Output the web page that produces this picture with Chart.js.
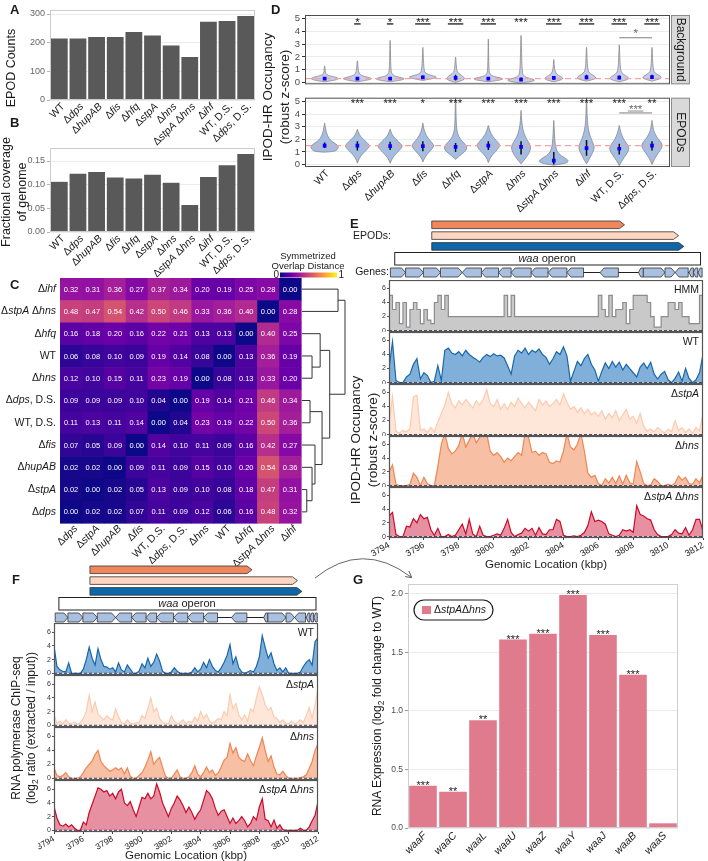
<!DOCTYPE html>
<html lang="en">
<head>
<meta charset="UTF-8">
<title>IPOD-HR EPODs and the waa operon</title>
<script src="https://cdn.jsdelivr.net/npm/chart.js"></script>
<style>
  body { margin: 0; background: #fff; }
  #fig { position: relative; width: 708px; height: 861px; overflow: hidden;
         font-family: "Liberation Sans", Arial, sans-serif; color: #1a1a1a; }
  #fig canvas { position: absolute; }
  .t { position: absolute; white-space: nowrap; line-height: 1.25; text-align: center; }
  .t sub { font-size: 70%; }
</style>
</head>
<body>
<div id="fig"></div>
<script>
// ---------- data ----------
// "_x_" marks italic text
const strains = ['WT', 'Δ_dps_', 'Δ_hupAB_', 'Δ_fis_', 'Δ_hfq_', 'Δ_stpA_', 'Δ_hns_',
                 'Δ_stpA_ Δ_hns_', 'Δ_ihf_', 'WT, D.S.', 'Δ_dps_, D.S.'];
const epodCounts = [215, 215, 220, 220, 237, 225, 190, 150, 273, 276, 293];
const genomeCoverage = [0.106, 0.123, 0.127, 0.115, 0.113, 0.121, 0.104, 0.057, 0.116, 0.141, 0.165];

const heatRows = ['Δ_ihf_', 'Δ_stpA_ Δ_hns_', 'Δ_hfq_', 'WT', 'Δ_hns_', 'Δ_dps_, D.S.',
                  'WT, D.S.', 'Δ_fis_', 'Δ_hupAB_', 'Δ_stpA_', 'Δ_dps_'];
const heatCols = ['Δ_dps_', 'Δ_stpA_', 'Δ_hupAB_', 'Δ_fis_', 'WT, D.S.', 'Δ_dps_, D.S.',
                  'Δ_hns_', 'WT', 'Δ_hfq_', 'Δ_stpA_ Δ_hns_', 'Δ_ihf_'];
const overlapDist = [
  [0.32, 0.31, 0.36, 0.27, 0.37, 0.34, 0.20, 0.19, 0.25, 0.28, 0.00],
  [0.48, 0.47, 0.54, 0.42, 0.50, 0.46, 0.33, 0.36, 0.40, 0.00, 0.28],
  [0.16, 0.18, 0.20, 0.16, 0.22, 0.21, 0.13, 0.13, 0.00, 0.40, 0.25],
  [0.06, 0.08, 0.10, 0.09, 0.19, 0.14, 0.08, 0.00, 0.13, 0.36, 0.19],
  [0.12, 0.10, 0.15, 0.11, 0.23, 0.19, 0.00, 0.08, 0.13, 0.33, 0.20],
  [0.09, 0.09, 0.09, 0.10, 0.04, 0.00, 0.19, 0.14, 0.21, 0.46, 0.34],
  [0.11, 0.13, 0.11, 0.14, 0.00, 0.04, 0.23, 0.19, 0.22, 0.50, 0.36],
  [0.07, 0.05, 0.09, 0.00, 0.14, 0.10, 0.11, 0.09, 0.16, 0.42, 0.27],
  [0.02, 0.02, 0.00, 0.09, 0.11, 0.09, 0.15, 0.10, 0.20, 0.54, 0.36],
  [0.02, 0.00, 0.02, 0.05, 0.13, 0.09, 0.10, 0.08, 0.18, 0.47, 0.31],
  [0.00, 0.02, 0.02, 0.07, 0.11, 0.09, 0.12, 0.06, 0.16, 0.48, 0.32]
];
// [node a, node b, height]; nodes 0-10 are rows, 11+ are earlier merges
const dendroMerges = [
  [9, 10, 0.05], [8, 11, 0.105], [7, 12, 0.136], [5, 6, 0.084], [14, 13, 0.21],
  [3, 4, 0.105], [2, 16, 0.19], [17, 15, 0.29], [0, 1, 0.377], [19, 18, 0.45]
];

// violin outlines: [z-score, half width in category units]
const bgViolins = [
  [[0.05, 0], [0.12, 0.2], [0.22, 0.38], [0.3, 0.42], [0.4, 0.36], [0.5, 0.18], [0.6, 0.06], [0.8, 0.02], [1.3, 0.005]],
  [[0.05, 0], [0.15, 0.25], [0.25, 0.42], [0.32, 0.44], [0.42, 0.3], [0.55, 0.1], [0.8, 0.03], [1.7, 0.005]],
  [[0.05, 0], [0.15, 0.28], [0.25, 0.44], [0.35, 0.4], [0.45, 0.2], [0.6, 0.06], [1.0, 0.02], [3.3, 0.004]],
  [[0.15, 0], [0.25, 0.2], [0.35, 0.4], [0.45, 0.42], [0.55, 0.25], [0.7, 0.08], [1.0, 0.03], [2.75, 0.004]],
  [[0.0, 0], [0.1, 0.15], [0.25, 0.28], [0.4, 0.26], [0.6, 0.15], [0.8, 0.06], [1.0, 0.03], [2.0, 0.005]],
  [[0.05, 0], [0.15, 0.3], [0.25, 0.45], [0.33, 0.42], [0.45, 0.18], [0.6, 0.05], [1.0, 0.015], [3.4, 0.004]],
  [[-0.05, 0], [0.05, 0.3], [0.15, 0.42], [0.25, 0.38], [0.35, 0.2], [0.5, 0.08], [0.8, 0.03], [3.7, 0.004]],
  [[0.05, 0], [0.15, 0.18], [0.3, 0.3], [0.45, 0.22], [0.65, 0.08], [1.0, 0.02], [1.8, 0.005]],
  [[0.1, 0], [0.2, 0.18], [0.35, 0.3], [0.5, 0.24], [0.7, 0.1], [1.0, 0.03], [2.75, 0.004]],
  [[0.05, 0], [0.15, 0.18], [0.3, 0.3], [0.45, 0.25], [0.65, 0.1], [1.0, 0.03], [2.95, 0.004]],
  [[0.1, 0], [0.2, 0.15], [0.35, 0.3], [0.5, 0.26], [0.7, 0.1], [1.0, 0.03], [2.75, 0.004]]
];
const epodViolins = [
  [[0.98, 0], [1.02, 0.3], [1.2, 0.4], [1.45, 0.43], [1.65, 0.33], [1.9, 0.18], [2.3, 0.08], [2.8, 0.03], [3.3, 0]],
  [[0.1, 0], [0.5, 0.05], [0.9, 0.18], [1.3, 0.34], [1.5, 0.38], [1.8, 0.27], [2.2, 0.1], [2.5, 0.04], [2.8, 0]],
  [[0.1, 0], [0.5, 0.06], [0.9, 0.2], [1.3, 0.35], [1.5, 0.38], [1.8, 0.26], [2.2, 0.1], [2.5, 0.04], [2.8, 0]],
  [[0.2, 0], [0.6, 0.06], [1.0, 0.2], [1.35, 0.32], [1.55, 0.34], [1.9, 0.22], [2.3, 0.1], [2.8, 0.03], [3.3, 0]],
  [[0.4, 0], [0.7, 0.12], [1.0, 0.28], [1.3, 0.36], [1.6, 0.3], [2.0, 0.14], [2.5, 0.05], [3.2, 0.02], [5.4, 0.004]],
  [[0.15, 0], [0.6, 0.06], [1.0, 0.22], [1.4, 0.34], [1.6, 0.35], [1.9, 0.24], [2.4, 0.08], [3.1, 0]],
  [[0.05, 0], [0.3, 0.08], [0.7, 0.2], [1.2, 0.3], [1.6, 0.28], [2.1, 0.14], [2.8, 0.05], [3.5, 0.02], [4.3, 0]],
  [[-0.05, 0], [0.05, 0.3], [0.2, 0.45], [0.4, 0.42], [0.7, 0.22], [1.0, 0.1], [1.6, 0.04], [2.5, 0.02], [3.5, 0]],
  [[0.05, 0], [0.3, 0.06], [0.8, 0.16], [1.3, 0.25], [1.7, 0.2], [2.3, 0.1], [3.0, 0.04], [4.0, 0.015], [5.4, 0.004]],
  [[-0.1, 0], [0.3, 0.08], [0.8, 0.22], [1.2, 0.3], [1.5, 0.28], [1.9, 0.15], [2.5, 0.05], [3.1, 0]],
  [[0.0, 0], [0.5, 0.08], [1.0, 0.22], [1.4, 0.32], [1.7, 0.3], [2.1, 0.16], [2.6, 0.06], [3.0, 0.03], [3.5, 0]]
];
const bgMedians = [0.3, 0.3, 0.3, 0.4, 0.35, 0.3, 0.22, 0.35, 0.4, 0.38, 0.42];
const bgLo = [0.2, 0.2, 0.2, 0.3, 0.15, 0.2, 0.1, 0.2, 0.25, 0.25, 0.3];
const bgHi = [0.4, 0.42, 0.42, 0.55, 0.6, 0.42, 0.38, 0.5, 0.6, 0.55, 0.6];
const epodMedians = [1.5, 1.5, 1.45, 1.45, 1.4, 1.5, 1.4, 0.3, 1.3, 1.25, 1.5];
const epodLo = [1.3, 1.1, 1.15, 1.05, 1.0, 1.15, 0.8, 0.0, 0.7, 0.8, 1.1];
const epodHi = [1.75, 1.85, 1.8, 1.85, 1.7, 1.85, 1.85, 1.0, 1.95, 1.65, 1.85];
const bgStars = ['', '*', '*', '***', '***', '***', '***', '***', '***', '***', '***'];
const bgUnderline = [false, true, true, true, true, true, false, true, true, true, true];
const epodStars = ['', '***', '***', '*', '***', '***', '***', '***', '***', '***', '**'];

// genome annotation (kbp)
const epodStart = [3796.45, 3796.45, 3796.45];
const epodEnd = [3807.5, 3810.6, 3810.9];
const epodColors = ['#f0875c', '#fdd5c0', '#0f66a8'];
const operonSpan = [3794.3, 3811.83];
const geneStart = [3794.08, 3794.95, 3795.97, 3796.95, 3798.2, 3799.3, 3800.28, 3801.0, 3802.15, 3803.12,
                   3804.2, 3806.1, 3808.3, 3808.58, 3809.82, 3810.4, 3811.2, 3811.45, 3811.72];
const geneEnd = [3794.95, 3795.97, 3796.95, 3798.2, 3799.3, 3800.28, 3801.0, 3802.15, 3803.12, 3804.2,
                 3805.15, 3807.15, 3808.58, 3809.82, 3810.4, 3811.15, 3811.45, 3811.7, 3811.95];
const geneStrand = [1, 1, 1, 1, -1, -1, -1, -1, -1, -1, -1, -1, -1, 1, 1, -1, -1, -1, -1];

// signal tracks, one value every 0.2 kbp from 3794 to 3812
const hmmE = [5,3,4,1,4,0.5,3,4,3,1, 3,1.5,1,4,5,3,5,2,2,2, 2,2,2,2,2,2,2,2,2,2, 2,2,2,5,2,5,2,2,2,2,
  2,2,2,2,2,2,2,2,2,2, 2,2,2,2,2,2,2,2,2,2, 5,3,2,5,2,3,3,4,1,3, 5,5,5,5,4,2,0.5,0.5,2,2, 4,4,3,4,2,2,1,1,1,5, 5];
const ipodWtE = [2.0,5.8,0.3,0,0,0.8,1.2,2.6,3.4,0.5, 1.4,1.0,0,0.2,2.4,0.3,4.6,4.9,4.2,4.0,
  4.4,3.8,4.6,4.0,3.6,3.3,2.9,3.6,4.0,3.7, 4.1,3.8,3.9,3.5,2.4,1.2,3.8,4.6,4.2,4.9,
  4.0,4.6,4.3,4.8,4.0,3.6,2.6,3.4,4.4,4.0, 5.1,3.8,0.2,1.6,3.0,2.4,3.4,4.0,2.6,1.8,
  0.2,1.6,2.8,2.0,3.0,2.2,2.9,1.8,2.6,2.0, 1.4,0.8,2.2,2.8,2.0,2.9,1.2,0.5,1.2,1.6,
  0.4,0,0.6,1.5,0.2,2.0,0.6,0,0.4,1.4, 4.0];
const ipodStpAE = [1.5,5.4,0.5,0.2,0.6,0.4,0.8,5.4,5.6,0.6, 0.8,0.3,1.0,0.4,1.8,3.0,4.2,6.0,4.4,3.8,
  4.8,4.2,5.0,4.4,3.8,4.8,4.2,5.0,6.4,4.4, 4.0,5.0,3.6,4.4,3.6,4.6,4.0,5.2,4.4,3.8,
  4.6,4.0,3.4,5.0,4.2,4.8,4.0,4.4,5.0,4.2, 5.8,4.6,3.6,4.0,3.2,3.8,3.0,3.6,2.8,3.2,
  2.6,3.4,2.2,3.0,2.4,3.4,2.0,2.8,3.6,2.2, 2.6,1.6,3.0,1.2,0.5,0.8,0.4,1.0,0.6,0.2,
  0.8,0.4,2.0,0.6,1.0,0.3,0.8,0.2,1.0,0.5, 3.0];
const ipodHnsE = [2.0,3.0,0.2,0,0,0,0.2,1.8,1.2,0, 1.2,0.3,0,0,2.8,6.0,7.6,5.4,4.6,5.0,
  5.8,7.6,5.6,6.6,7.6,6.2,7.0,7.6,7.6,5.0, 4.4,4.8,4.2,3.4,4.0,3.6,4.2,4.8,4.4,7.6,
  7.0,4.8,5.0,4.4,4.8,4.6,3.4,3.2,3.6,3.4, 5.0,7.6,5.6,5.2,6.0,7.6,5.0,1.8,1.2,1.5,
  0.3,0,1.0,0.4,1.2,0.3,1.4,0.2,1.5,0.4, 0.2,3.5,2.0,0.3,0,0.1,1.0,0.6,0,0,
  0.2,0,0.4,1.4,0.8,1.2,0.3,0.2,1.0,0.4, 1.5];
const ipodBothE = [3.0,3.5,0.3,0,0,1.5,1.4,2.6,2.0,3.2, 2.6,2.8,1.0,0.2,1.2,0,0,0.3,0,0.2,
  1.0,1.8,0.4,2.5,0.4,0,1.5,0.2,0,0, 0.2,0.4,0.2,1.2,2.5,0.6,0,0.3,0.5,1.2,
  0.8,1.2,0.2,1.3,0.4,0.3,1.0,1.0,2.5,2.2, 0.2,0,0,0.1,0,0.2,0.6,1.6,3.6,2.2,
  2.4,2.2,1.8,0.4,0.2,0,0.2,1.0,0.8,1.0, 0.6,4.5,3.2,3.0,2.6,2.4,1.0,0.3,0,0,
  0,0.3,1.0,0.5,0.4,1.3,0.2,1.0,2.5,2.5, 0.8];
const rnapWtF = [4.0,1.0,0.5,0.3,0.2,1.5,0,0,0,0, 0.6,2.0,3.8,2.2,1.2,3.6,2.0,1.0,0.9,0.6,
  0.8,0.2,1.5,0.5,0.2,1.2,0.6,0,0,0.3, 1.4,0.8,2.2,1.0,1.6,2.8,1.8,0.3,0,0,
  0.2,0.8,0.3,0,0,0,0,0.2,0.8,0.2, 0.6,1.6,0.8,2.0,1.0,0.4,0.2,0.8,1.6,2.6,
  4.2,1.4,2.4,0.8,0.2,0,0.2,0.4,0.2,1.0, 2.4,5.5,3.8,2.2,3.0,1.4,0.4,0.8,0.2,0.8,
  0,0,0,0,0.2,1.0,1.6,2.0,1.2,4.6, 5.2];
const rnapStpAF = [1.5,0.3,0.6,0.2,0.8,0.3,0.2,0.5,0.2,0.4, 1.0,2.0,4.4,2.0,3.4,1.6,1.2,0.8,1.4,1.0,
  0.8,2.4,1.2,0.4,0.2,0.8,0.3,0.2,0.4,0.4, 1.4,1.0,2.5,4.0,2.0,2.5,1.0,0.4,0.3,0.2,
  1.4,0.6,0.2,0.4,0.8,0.2,0.6,0.4,1.2,0.6, 2.0,1.0,1.6,0.6,0.3,0.6,1.0,0.8,2.0,1.4,
  4.5,2.4,3.2,1.5,0.8,1.5,0.6,2.4,2.0,4.0, 5.6,4.5,3.0,2.2,2.6,1.2,1.0,0.4,0.8,0.3,
  0.2,0.6,0.2,0.4,0.8,0.4,1.4,2.6,1.0,3.0, 5.5];
const rnapHnsF = [1.5,0.4,0.2,0.4,0.8,0.2,0,0,0,0.2, 0.8,1.5,2.0,2.5,3.4,4.0,2.4,1.8,1.4,1.0,
  1.2,1.5,1.2,1.5,0.6,1.5,0.3,0,0,0.4, 0.8,1.6,2.6,3.8,2.0,2.6,3.0,1.6,0.3,0,
  0,0.6,1.2,0.2,0,0,0.2,0.8,1.8,0.6, 0.2,0.8,1.6,0.8,1.2,0.4,0.8,1.6,2.6,3.0,
  5.0,3.6,4.4,3.0,2.6,2.4,3.5,2.5,1.8,3.2, 4.4,5.8,4.0,2.4,3.2,1.6,0.6,0.5,1.0,0.4,
  0,0,0,0,0.1,0.2,0.5,1.4,2.4,4.0, 5.0];
const rnapBothF = [3.5,1.8,0.8,0.6,0.9,0.5,0.8,0.3,0,0, 1.2,0.8,2.6,3.8,5.0,6.2,6.0,5.6,5.8,5.0,
  5.4,4.6,5.6,6.0,4.0,3.6,4.2,3.0,2.0,3.4, 4.8,4.6,5.4,4.6,5.0,6.8,5.6,4.0,3.0,2.0,
  3.2,4.0,5.0,4.4,3.6,2.6,3.4,2.6,1.6,2.4, 3.0,4.4,5.8,5.4,4.6,3.2,2.2,2.8,3.0,2.0,
  1.0,1.8,1.0,1.4,2.0,1.4,0.5,1.0,2.0,1.5, 3.4,4.6,1.6,1.4,0.5,1.5,0.3,0.8,0.1,0,
  0,0,0,0,0.3,0,0,0.5,1.4,2.2, 4.2];
const kbpTicks = [3794, 3796, 3798, 3800, 3802, 3804, 3806, 3808, 3810, 3812];

const waaGenes = ['waaF', 'waaC', 'waaL', 'waaU', 'waaZ', 'waaY', 'waaJ', 'waaB', 'waaS'];
const waaExpr = [0.36, 0.31, 0.92, 1.61, 1.66, 1.99, 1.65, 1.31, 0.04];
const waaStars = ['***', '**', '**', '***', '***', '***', '***', '***', ''];

// ---------- helpers ----------
const FF = '"Liberation Sans", Arial, sans-serif';
Chart.defaults.font.family = FF;
Chart.defaults.animation = false;
Chart.defaults.responsive = false;
Chart.defaults.events = [];
Chart.defaults.plugins.legend.display = false;
Chart.defaults.plugins.tooltip.enabled = false;

const fig = document.getElementById('fig');
const kbp = Array.from({ length: hmmE.length }, (_, i) => +(3794 + 0.2 * i).toFixed(1));

function mk(x, y, w, h) {
  const c = document.createElement('canvas');
  c.width = w; c.height = h;
  c.style.left = x + 'px'; c.style.top = y + 'px';
  fig.appendChild(c);
  return c;
}

function richHtml(s) { return s.split('_').map((t, i) => i % 2 ? '<i>' + t + '</i>' : t).join(''); }
function txt(s, x, y, size, opt = {}) {
  const d = document.createElement('div');
  d.className = 't';
  d.innerHTML = s.split('\n').map(richHtml).join('<br>');
  d.style.left = x + 'px'; d.style.top = y + 'px';
  d.style.fontSize = size + 'px';
  if (opt.bold) d.style.fontWeight = 'bold';
  let tr = opt.anchor || 'translate(-50%,-50%)';
  if (opt.rot) tr += ' rotate(' + opt.rot + 'deg)';
  d.style.transform = tr;
  fig.appendChild(d);
}

function drawRich(ctx, s, x, y, o) {
  const size = o.size || 10;
  const parts = s.split('_').map((t, i) => ({ t, it: i % 2 === 1 })).filter(p => p.t);
  ctx.save();
  ctx.translate(x, y);
  if (o.angle) ctx.rotate(o.angle);
  let w = 0;
  parts.forEach(p => { ctx.font = (p.it ? 'italic ' : '') + size + 'px ' + FF; p.w = ctx.measureText(p.t).width; w += p.w; });
  let cx = o.align === 'right' ? -w : o.align === 'center' ? -w / 2 : 0;
  ctx.fillStyle = o.color || '#1a1a1a';
  ctx.textBaseline = 'middle';
  ctx.textAlign = 'left';
  parts.forEach(p => { ctx.font = (p.it ? 'italic ' : '') + size + 'px ' + FF; ctx.fillText(p.t, cx, 0); cx += p.w; });
  ctx.restore();
}

const plasmaStops = ['#0d0887', '#41049d', '#6a00a8', '#8f0da4', '#b12a90', '#cc4778',
                     '#e16462', '#f2844b', '#fca636', '#fcce25', '#f0f921'];
function plasma(t) {
  const u = Math.max(0, Math.min(1, t)) * 10, k = Math.min(9, Math.floor(u)), f = u - k;
  const p = h => [1, 3, 5].map(j => parseInt(h.substr(j, 2), 16));
  const c0 = p(plasmaStops[k]), c1 = p(plasmaStops[k + 1]);
  return 'rgb(' + c0.map((v, j) => Math.round(v + (c1[j] - v) * f)).join(',') + ')';
}

const fixTicks = vals => scale => { scale.ticks = vals.map(v => ({ value: v })); };

function hline(ctx, x0, x1, y, color, w) {
  ctx.strokeStyle = color; ctx.lineWidth = w;
  ctx.beginPath(); ctx.moveTo(x0, y); ctx.lineTo(x1, y); ctx.stroke();
}

const framePlugin = (color, width) => ({
  id: 'frame',
  afterDatasetsDraw(chart) {
    const a = chart.chartArea, ctx = chart.ctx;
    ctx.save();
    ctx.strokeStyle = color; ctx.lineWidth = width || 1;
    ctx.strokeRect(a.left + 0.5, a.top + 0.5, a.right - a.left - 1, a.bottom - a.top - 1);
    ctx.restore();
  }
});

const slantLabels = (labels, size, dx, dy) => ({
  id: 'slant',
  afterDraw(chart) {
    const xs = chart.scales.x, b = chart.chartArea.bottom;
    labels.forEach((s, i) => drawRich(chart.ctx, s, xs.getPixelForValue(i) + dx, b + dy,
      { size, angle: -Math.PI / 4, align: 'right' }));
  }
});

// ---------- A and B ----------
function barPanel(top, h, padBottom, values, ymax, yticks, fmt) {
  return new Chart(mk(0, top, 262, h), {
    type: 'bar',
    data: { labels: strains, datasets: [{ data: values, backgroundColor: '#595959', barPercentage: 0.9, categoryPercentage: 1 }] },
    options: {
      layout: { padding: { top: 10, right: 7, bottom: padBottom } },
      scales: {
        x: { display: false },
        y: {
          min: 0, max: ymax, afterBuildTicks: fixTicks(yticks),
          ticks: { color: '#666', font: { size: 9 }, padding: 2, callback: fmt },
          grid: { color: '#ebebeb', tickLength: 3, tickColor: '#b3b3b3' },
          border: { display: false },
          afterFit: s => { s.width = 50; }
        }
      }
    },
    plugins: [framePlugin('#cccccc'), slantLabels(strains, 10.5, 4, 5)]
  });
}
barPanel(0, 152, 52, epodCounts, 314, [0, 100, 200, 300], v => v);
barPanel(138, 140, 46, genomeCoverage, 0.1775, [0, 0.05, 0.1, 0.15], v => v.toFixed(2));

// ---------- C heatmap ----------
const heatPlugin = {
  id: 'heat',
  beforeDatasetsDraw(chart) {
    const ctx = chart.ctx, xs = chart.scales.x, ys = chart.scales.y;
    overlapDist.forEach((row, r) => row.forEach((v, c) => {
      const x0 = xs.getPixelForValue(c - 0.5), x1 = xs.getPixelForValue(c + 0.5);
      const y0 = ys.getPixelForValue(r - 0.5), y1 = ys.getPixelForValue(r + 0.5);
      ctx.fillStyle = plasma(v);
      ctx.fillRect(Math.min(x0, x1), Math.min(y0, y1), Math.abs(x1 - x0) + 0.6, Math.abs(y1 - y0) + 0.6);
    }));
    ctx.save();
    ctx.font = '7.5px ' + FF; ctx.fillStyle = '#fff';
    ctx.textAlign = 'center'; ctx.textBaseline = 'middle';
    overlapDist.forEach((row, r) => row.forEach((v, c) =>
      ctx.fillText(v.toFixed(2), xs.getPixelForValue(c), ys.getPixelForValue(r) + 0.5)));
    ctx.restore();
  },
  afterDraw(chart) {
    const ctx = chart.ctx, xs = chart.scales.x, ys = chart.scales.y, a = chart.chartArea;
    heatRows.forEach((s, r) => drawRich(ctx, s, a.left - 4, ys.getPixelForValue(r), { size: 10.5, align: 'right' }));
    heatCols.forEach((s, c) => drawRich(ctx, s, xs.getPixelForValue(c) + 5, a.bottom + 4,
      { size: 10.5, angle: -Math.PI / 4, align: 'right' }));
    // dendrogram
    const hx = h => a.right + 1 + h / 0.45 * 43;
    const node = heatRows.map((_, r) => ({ y: ys.getPixelForValue(r), h: 0 }));
    ctx.save();
    ctx.strokeStyle = '#333'; ctx.lineWidth = 1;
    dendroMerges.forEach(([p, q, h]) => {
      const A = node[p], B = node[q], x = hx(h);
      ctx.beginPath();
      ctx.moveTo(hx(A.h), A.y); ctx.lineTo(x, A.y); ctx.lineTo(x, B.y); ctx.lineTo(hx(B.h), B.y);
      ctx.stroke();
      node.push({ y: (A.y + B.y) / 2, h });
    });
    // colour bar
    const g = ctx.createLinearGradient(280, 0, 337, 0);
    plasmaStops.forEach((c, k) => g.addColorStop(k / 10, c));
    ctx.fillStyle = g; ctx.fillRect(280, 22.5, 57, 5);
    ctx.fillStyle = '#1a1a1a'; ctx.textBaseline = 'middle';
    ctx.font = '10px ' + FF;
    ctx.textAlign = 'right'; ctx.fillText('0', 279, 25);
    ctx.textAlign = 'left'; ctx.fillText('1', 338.5, 25);
    ctx.textAlign = 'center'; ctx.font = '9.5px ' + FF;
    ctx.fillText('Symmetrized', 308, 6);
    ctx.fillText('Overlap Distance', 308, 16.5);
    ctx.restore();
  }
};
new Chart(mk(0, 250, 350, 330), {
  type: 'scatter',
  data: { datasets: [{ data: heatRows.flatMap((_, r) => heatCols.map((_, c) => ({ x: c, y: r }))), pointRadius: 0 }] },
  options: {
    layout: { padding: { top: 28, right: 49, left: 60, bottom: 57 } },
    scales: {
      x: { display: false, min: -0.5, max: 10.5 },
      y: { display: false, min: -0.5, max: 10.5, reverse: true }
    }
  },
  plugins: [heatPlugin]
});

// ---------- D violins ----------
function smoothPath(ctx, p) {
  ctx.beginPath();
  ctx.moveTo(p[0][0], p[0][1]);
  for (let k = 1; k < p.length - 1; k++) {
    ctx.quadraticCurveTo(p[k][0], p[k][1], (p[k][0] + p[k + 1][0]) / 2, (p[k][1] + p[k + 1][1]) / 2);
  }
  ctx.lineTo(p[p.length - 1][0], p[p.length - 1][1]);
  ctx.closePath();
}

const violinPlugin = o => ({
  id: 'violin',
  beforeDatasetsDraw(chart) {
    const ctx = chart.ctx, xs = chart.scales.x, ys = chart.scales.y, a = chart.chartArea;
    const unit = xs.getPixelForValue(1) - xs.getPixelForValue(0);
    ctx.save();
    ctx.beginPath(); ctx.rect(a.left, a.top, a.right - a.left, a.bottom - a.top); ctx.clip();
    o.profiles.forEach((prof, i) => {
      const cx = xs.getPixelForValue(i);
      const right = prof.map(([v, w]) => [cx + w * unit, ys.getPixelForValue(v)]);
      const left = prof.slice().reverse().map(([v, w]) => [cx - w * unit, ys.getPixelForValue(v)]);
      smoothPath(ctx, right.concat(left));
      ctx.fillStyle = o.fill; ctx.fill();
      ctx.strokeStyle = '#7f7f7f'; ctx.lineWidth = 0.7; ctx.stroke();
    });
    ctx.setLineDash([6, 4]);
    hline(ctx, a.left, a.right, ys.getPixelForValue(o.ref), '#f4a3a3', 1.4);
    ctx.setLineDash([]);
    o.lo.forEach((lo, i) => {
      const x = xs.getPixelForValue(i);
      ctx.strokeStyle = '#111'; ctx.lineWidth = 1.5;
      ctx.beginPath(); ctx.moveTo(x, ys.getPixelForValue(lo)); ctx.lineTo(x, ys.getPixelForValue(o.hi[i])); ctx.stroke();
    });
    ctx.restore();
  },
  afterDraw(chart) {
    const ctx = chart.ctx, xs = chart.scales.x, ys = chart.scales.y, a = chart.chartArea;
    ctx.save();
    ctx.font = '11.5px ' + FF; ctx.textAlign = 'center'; ctx.textBaseline = 'middle';
    o.stars.forEach((s, i) => {
      if (!s) return;
      const x = xs.getPixelForValue(i);
      ctx.fillStyle = '#1a1a1a';
      ctx.fillText(s, x, ys.getPixelForValue(o.starY));
      if (o.underline && o.underline[i]) {
        const w = ctx.measureText(s).width + 2;
        hline(ctx, x - w / 2, x + w / 2, ys.getPixelForValue(o.ulY), '#595959', 1.8);
      }
    });
    const b = o.bracket;
    const bx0 = xs.getPixelForValue(b.from), bx1 = xs.getPixelForValue(b.to), bm = (bx0 + bx1) / 2;
    hline(ctx, bx0, bx1, ys.getPixelForValue(b.y), '#7f7f7f', 1);
    ctx.fillStyle = '#6b6b6b';
    ctx.fillText(b.text, bm, ys.getPixelForValue(b.ty));
    if (b.uy != null) {
      const w = ctx.measureText(b.text).width + 2;
      hline(ctx, bm - w / 2, bm + w / 2, ys.getPixelForValue(b.uy), '#8c8c8c', 1);
    }
    // facet strip
    const sx = a.right + 1, sw = 19;
    ctx.fillStyle = '#d9d9d9'; ctx.fillRect(sx, a.top, sw, a.bottom - a.top);
    ctx.strokeStyle = '#8c8c8c'; ctx.lineWidth = 1;
    ctx.strokeRect(sx + 0.5, a.top + 0.5, sw - 1, a.bottom - a.top - 1);
    ctx.translate(sx + sw / 2, (a.top + a.bottom) / 2);
    ctx.rotate(Math.PI / 2);
    ctx.fillStyle = '#1a1a1a'; ctx.font = '12px ' + FF;
    ctx.fillText(o.strip, 0, 0);
    ctx.restore();
  }
});

function violinPanel(top, h, padTop, padBottom, ymin, o, extra) {
  return new Chart(mk(230, top, 478, h), {
    type: 'scatter',
    data: { datasets: [{ data: o.medians.map((y, i) => ({ x: i, y })), pointStyle: 'rect', pointRadius: 2.6,
                         backgroundColor: '#0000ff', borderColor: '#0000ff', borderWidth: 0 }] },
    options: {
      layout: { padding: { top: padTop, right: 38, bottom: padBottom } },
      scales: {
        x: { type: 'linear', display: false, min: -0.6, max: 10.55 },
        y: {
          min: ymin, max: 5.3, afterBuildTicks: fixTicks([0, 1, 2, 3, 4, 5]),
          ticks: { color: '#4d4d4d', font: { size: 9.5 }, padding: 2 },
          grid: { color: '#ebebeb', tickLength: 3, tickColor: '#333' },
          border: { display: false },
          afterFit: s => { s.width = 75; }
        }
      }
    },
    plugins: [violinPlugin(o), framePlugin('#4d4d4d')].concat(extra || [])
  });
}
violinPanel(0, 92, 15, 3, -0.15, {
  profiles: bgViolins, fill: '#c7cceb', medians: bgMedians, lo: bgLo, hi: bgHi, ref: 0.3,
  stars: bgStars, underline: bgUnderline, starY: 4.72, ulY: 4.6,
  bracket: { from: 9, to: 10, y: 3.51, ty: 3.83, text: '*' }, strip: 'Background'
});
violinPanel(90, 135, 3, 58, -0.2, {
  profiles: epodViolins, fill: '#a6bde2', medians: epodMedians, lo: epodLo, hi: epodHi, ref: 1.5,
  stars: epodStars, starY: 4.82,
  bracket: { from: 9, to: 10, y: 4.09, ty: 4.37, uy: 4.24, text: '***' }, strip: 'EPODs'
}, [slantLabels(strains, 10.5, 3, 5)]);

// ---------- E / F genome tracks ----------
function arrowShape(ctx, x0, x1, y0, y1, dir, tip) {
  const t = Math.min(tip, (x1 - x0) * 0.5), ym = (y0 + y1) / 2;
  ctx.beginPath();
  if (dir > 0) {
    ctx.moveTo(x0, y0); ctx.lineTo(x1 - t, y0); ctx.lineTo(x1, ym); ctx.lineTo(x1 - t, y1); ctx.lineTo(x0, y1);
  } else {
    ctx.moveTo(x1, y0); ctx.lineTo(x0 + t, y0); ctx.lineTo(x0, ym); ctx.lineTo(x0 + t, y1); ctx.lineTo(x1, y1);
  }
  ctx.closePath();
}

const genomePlugin = {
  id: 'genome',
  afterDraw(chart) {
    const ctx = chart.ctx, X = v => chart.scales.x.getPixelForValue(v);
    ctx.save();
    epodEnd.forEach((end, k) => {
      const y0 = 3 + k * 10.8;
      arrowShape(ctx, X(epodStart[k]), X(end), y0, y0 + 7.6, 1, 5);
      ctx.fillStyle = epodColors[k]; ctx.fill();
      ctx.strokeStyle = '#333'; ctx.lineWidth = 0.8; ctx.stroke();
    });
    const ox0 = X(operonSpan[0]), ox1 = X(operonSpan[1]);
    ctx.fillStyle = '#fff'; ctx.fillRect(ox0, 34, ox1 - ox0, 13);
    ctx.strokeStyle = '#222'; ctx.lineWidth = 1; ctx.strokeRect(ox0 + 0.5, 34.5, ox1 - ox0, 12.5);
    hline(ctx, X(geneStart[0]), X(geneEnd[geneEnd.length - 1]), 54.5, '#222', 1);
    geneStart.forEach((s, k) => {
      arrowShape(ctx, X(s), X(geneEnd[k]), 50, 59, geneStrand[k], 4);
      ctx.fillStyle = '#a9c0e0'; ctx.fill();
      ctx.strokeStyle = '#333'; ctx.lineWidth = 0.8; ctx.stroke();
    });
    ctx.restore();
    drawRich(ctx, '_waa_ operon', (ox0 + ox1) / 2, 41, { size: 11, align: 'center' });
  }
};
function geneHeader(x, y, w, padL, padR) {
  return new Chart(mk(x, y, w, 62), {
    type: 'scatter',
    data: { datasets: [] },
    options: {
      layout: { padding: { left: padL, right: padR } },
      scales: { x: { type: 'linear', display: false, min: 3794, max: 3812 }, y: { display: false, min: 0, max: 1 } }
    },
    plugins: [genomePlugin]
  });
}
geneHeader(380, 218, 328, 9, 5);
geneHeader(44, 563, 280, 10, 6);

const trackDecor = label => ({
  id: 'trackDecor',
  afterDatasetsDraw(chart) {
    const a = chart.chartArea, ctx = chart.ctx, y0 = chart.scales.y.getPixelForValue(0);
    ctx.save();
    ctx.setLineDash([3, 2]);
    hline(ctx, a.left, a.right, y0, '#3d3d5c', 1);
    ctx.setLineDash([]);
    ctx.strokeStyle = '#555'; ctx.lineWidth = 1.2;
    ctx.strokeRect(a.left + 0.5, a.top + 0.5, a.right - a.left - 1, a.bottom - a.top - 1);
    ctx.restore();
    drawRich(ctx, label, a.right - 4, a.top + 10, { size: 10.5, align: 'right' });
  }
});

const trackStyles = {
  hmm: { line: '#8c8c8c', fill: '#c9c9c9', label: 'HMM', stepped: true },
  wt: { line: '#1767aa', fill: 'rgba(50,128,196,0.62)', label: 'WT' },
  stpA: { line: '#fbcbb0', fill: 'rgba(253,214,192,0.6)', label: 'Δ_stpA_' },
  hns: { line: '#ef8654', fill: 'rgba(244,164,126,0.7)', label: 'Δ_hns_' },
  both: { line: '#cc0a27', fill: 'rgba(214,70,100,0.6)', label: 'Δ_stpA_ Δ_hns_' }
};

function track(cx, cy, axisW, plotW, padR, h, vals, st, yr, xAxisH, tickSize) {
  const c = mk(cx, cy, axisW + plotW + padR, h + (xAxisH || 0));
  return new Chart(c, {
    type: 'line',
    data: { datasets: [{ data: kbp.map((x, i) => ({ x, y: vals[i] })), borderColor: st.line, backgroundColor: st.fill,
                         borderWidth: 1.2, pointRadius: 0, fill: 'origin', stepped: !!st.stepped, tension: 0 }] },
    options: {
      layout: { padding: { right: padR } },
      scales: {
        x: {
          type: 'linear', min: 3794, max: 3812, display: !!xAxisH,
          afterBuildTicks: fixTicks(kbpTicks),
          ticks: { callback: v => String(v), minRotation: 30, maxRotation: 30, font: { size: tickSize || 9 }, color: '#1a1a1a', padding: 0 },
          grid: { drawOnChartArea: false, tickLength: 2, color: '#444' },
          border: { display: false },
          title: { display: true, text: 'Genomic Location (kbp)', font: { size: 11.5 }, color: '#1a1a1a', padding: { top: 0, bottom: 2 } },
          afterFit: s => { if (xAxisH) s.height = xAxisH; s.paddingLeft = 0; s.paddingRight = 0; }
        },
        y: {
          min: yr[0], max: yr[1], afterBuildTicks: fixTicks([0, 2, 4, 6]),
          ticks: { font: { size: 7 }, color: '#333', padding: 1 },
          grid: { drawOnChartArea: false, tickLength: 2, color: '#555' },
          border: { display: false },
          afterFit: s => { s.width = axisW; s.paddingTop = 0; s.paddingBottom = 0; }
        }
      }
    },
    plugins: [trackDecor(st.label)]
  });
}
const yrE = [-0.2, 7.2], yrF = [-0.25, 7.35];
track(371, 280, 18, 314, 5, 52, hmmE, trackStyles.hmm, yrE);
track(371, 332, 18, 314, 5, 52, ipodWtE, trackStyles.wt, yrE);
track(371, 384, 18, 314, 5, 52, ipodStpAE, trackStyles.stpA, yrE);
track(371, 436, 18, 314, 5, 51, ipodHnsE, trackStyles.hns, yrE);
track(371, 487, 18, 314, 5, 51, ipodBothE, trackStyles.both, yrE, 36, 9);

track(38, 623, 16, 264, 4, 52, rnapWtF, trackStyles.wt, yrF);
track(38, 675, 16, 264, 4, 52, rnapStpAF, trackStyles.stpA, yrF);
track(38, 727, 16, 264, 4, 53, rnapHnsF, trackStyles.hns, yrF);
track(38, 780, 16, 264, 4, 52, rnapBothF, trackStyles.both, yrF, 33, 8.5);

// ---------- G ----------
const barStars = stars => ({
  id: 'barStars',
  afterDatasetsDraw(chart) {
    const ctx = chart.ctx, meta = chart.getDatasetMeta(0);
    ctx.save();
    ctx.font = '11px ' + FF; ctx.fillStyle = '#1a1a1a';
    ctx.textAlign = 'center'; ctx.textBaseline = 'alphabetic';
    meta.data.forEach((el, i) => { if (stars[i]) ctx.fillText(stars[i], el.x, el.y + 3); });
    ctx.restore();
  }
});
const pillLegend = (label, color) => ({
  id: 'pill',
  afterDraw(chart) {
    const a = chart.chartArea, ctx = chart.ctx;
    const x = a.left + 6, y = a.top + 16, w = 79, h = 20;
    ctx.save();
    ctx.beginPath(); ctx.roundRect(x, y, w, h, 10);
    ctx.fillStyle = '#fff'; ctx.fill();
    ctx.strokeStyle = '#1a1a1a'; ctx.lineWidth = 1.2; ctx.stroke();
    ctx.fillStyle = color; ctx.fillRect(x + 8, y + 6, 9, 8);
    ctx.restore();
    drawRich(ctx, label, x + 20, y + h / 2 + 0.5, { size: 10.5 });
  }
});
new Chart(mk(340, 575, 368, 286), {
  type: 'bar',
  data: { labels: waaGenes, datasets: [{ data: waaExpr, backgroundColor: '#e07b8d', barPercentage: 0.92, categoryPercentage: 1 }] },
  options: {
    layout: { padding: { top: 9, right: 30, bottom: 33 } },
    scales: {
      x: { display: false },
      y: {
        min: 0, max: 2.085, afterBuildTicks: fixTicks([0, 0.5, 1, 1.5, 2]),
        ticks: { callback: v => v.toFixed(1), color: '#4d4d4d', font: { size: 8.5 }, padding: 2 },
        grid: { color: '#ebebeb', tickLength: 3, tickColor: '#999' },
        border: { display: false },
        afterFit: s => { s.width = 68; }
      }
    }
  },
  plugins: [framePlugin('#cfcfcf'), slantLabels(waaGenes.map(g => '_' + g + '_'), 10.5, 2, 6),
            barStars(waaStars), pillLegend('Δ_stpA_Δ_hns_', '#e07b8d')]
});

// ---------- titles and labels ----------
const corner = 'translate(0,0)';
txt('A', 10, 2, 13, { bold: true, anchor: corner });
txt('B', 10, 115, 13, { bold: true, anchor: corner });
txt('C', 10, 277, 13, { bold: true, anchor: corner });
txt('D', 271, 2, 13, { bold: true, anchor: corner });
txt('E', 350, 216, 13, { bold: true, anchor: corner });
txt('F', 12, 572, 13, { bold: true, anchor: corner });
txt('G', 353, 572, 13, { bold: true, anchor: corner });

txt('EPOD Counts', 12, 68, 12.5, { rot: -90 });
txt('Fractional coverage\nof genome', 15, 192, 12.5, { rot: -90 });
txt('IPOD-HR Occupancy\n(robust z-score)', 277, 97, 13.5, { rot: -90 });
txt('IPOD-HR Occupancy\n(robust z-score)', 365, 440, 13.5, { rot: -90 });
txt('RNA polymerase ChIP-seq\n(log<sub>2</sub> ratio (extracted / input))', 25, 728, 12, { rot: -90 });
txt('RNA Expression (log<sub>2</sub> fold change to WT)', 378, 706, 12, { rot: -90 });
txt('EPODs:', 391, 236, 10.5, { anchor: 'translate(-100%,-50%)' });
txt('Genes:', 389, 272, 10.5, { anchor: 'translate(-100%,-50%)' });

fig.insertAdjacentHTML('beforeend',
  '<svg width="708" height="861" style="position:absolute;left:0;top:0;pointer-events:none">' +
  '<defs><marker id="ah" markerWidth="8" markerHeight="8" refX="6" refY="4" orient="auto">' +
  '<path d="M0,0 L7,4 L0,8" fill="none" stroke="#555" stroke-width="1"/></marker></defs>' +
  '<path d="M315,578 Q362,540 411,577" fill="none" stroke="#555" stroke-width="0.9" marker-end="url(#ah)"/></svg>');
</script>
</body>
</html>
